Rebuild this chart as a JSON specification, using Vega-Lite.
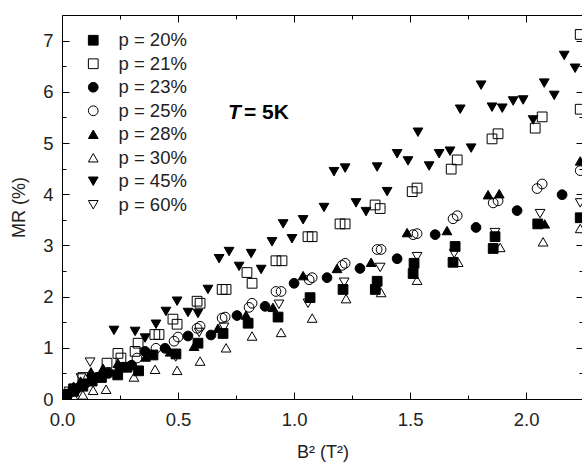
{
  "$schema": "https://vega.github.io/schema/vega-lite/v6.json",
  "autosize": {"type": "none"},
  "padding": {"left": 62, "top": 15, "right": 0, "bottom": 65},
  "width": 521,
  "height": 384,
  "config": {
    "font": "Liberation Sans",
    "view": {"stroke": null},
    "axis": {"domainColor": "black", "tickColor": "black", "labelColor": "#222", "titleColor": "#222", "labelFont": "Liberation Sans", "titleFont": "Liberation Sans", "grid": false},
    "legend": {"orient": "none", "legendX": 22, "legendY": 16, "padding": 0, "labelFontSize": 18.5, "labelFont": "Liberation Sans", "labelColor": "#222", "labelOffset": 16, "rowPadding": 4.5, "symbolSize": 95, "symbolStrokeWidth": 1}
  },
  "data": {
    "values": [
      {"s": "p = 20%", "x": 0.02, "y": 0.08}, {"s": "p = 20%", "x": 0.05, "y": 0.15}, {"s": "p = 20%", "x": 0.09, "y": 0.25}, {"s": "p = 20%", "x": 0.13, "y": 0.35}, {"s": "p = 20%", "x": 0.17, "y": 0.42}, {"s": "p = 20%", "x": 0.24, "y": 0.47}, {"s": "p = 20%", "x": 0.28, "y": 0.62}, {"s": "p = 20%", "x": 0.33, "y": 0.55}, {"s": "p = 20%", "x": 0.392, "y": 0.86}, {"s": "p = 20%", "x": 0.491, "y": 0.88}, {"s": "p = 20%", "x": 0.586, "y": 1.09}, {"s": "p = 20%", "x": 0.694, "y": 1.28}, {"s": "p = 20%", "x": 0.802, "y": 1.48}, {"s": "p = 20%", "x": 0.931, "y": 1.6}, {"s": "p = 20%", "x": 1.069, "y": 1.98}, {"s": "p = 20%", "x": 1.211, "y": 2.14}, {"s": "p = 20%", "x": 1.358, "y": 2.3}, {"s": "p = 20%", "x": 1.35, "y": 2.14}, {"s": "p = 20%", "x": 1.517, "y": 2.65}, {"s": "p = 20%", "x": 1.513, "y": 2.45}, {"s": "p = 20%", "x": 1.694, "y": 2.98}, {"s": "p = 20%", "x": 1.685, "y": 2.67}, {"s": "p = 20%", "x": 1.866, "y": 3.17}, {"s": "p = 20%", "x": 1.858, "y": 2.94}, {"s": "p = 20%", "x": 2.05, "y": 3.42}, {"s": "p = 20%", "x": 2.233, "y": 3.54},
      {"s": "p = 21%", "x": 0.05, "y": 0.2}, {"s": "p = 21%", "x": 0.09, "y": 0.42}, {"s": "p = 21%", "x": 0.194, "y": 0.7}, {"s": "p = 21%", "x": 0.241, "y": 0.89}, {"s": "p = 21%", "x": 0.254, "y": 0.8}, {"s": "p = 21%", "x": 0.315, "y": 0.93}, {"s": "p = 21%", "x": 0.328, "y": 1.09}, {"s": "p = 21%", "x": 0.4, "y": 1.26}, {"s": "p = 21%", "x": 0.418, "y": 1.26}, {"s": "p = 21%", "x": 0.478, "y": 1.56}, {"s": "p = 21%", "x": 0.496, "y": 1.46}, {"s": "p = 21%", "x": 0.582, "y": 1.91}, {"s": "p = 21%", "x": 0.595, "y": 1.87}, {"s": "p = 21%", "x": 0.69, "y": 2.14}, {"s": "p = 21%", "x": 0.707, "y": 2.14}, {"s": "p = 21%", "x": 0.797, "y": 2.47}, {"s": "p = 21%", "x": 0.819, "y": 2.26}, {"s": "p = 21%", "x": 0.922, "y": 2.7}, {"s": "p = 21%", "x": 0.948, "y": 2.7}, {"s": "p = 21%", "x": 1.06, "y": 3.17}, {"s": "p = 21%", "x": 1.078, "y": 3.17}, {"s": "p = 21%", "x": 1.198, "y": 3.42}, {"s": "p = 21%", "x": 1.22, "y": 3.42}, {"s": "p = 21%", "x": 1.349, "y": 3.79}, {"s": "p = 21%", "x": 1.371, "y": 3.72}, {"s": "p = 21%", "x": 1.509, "y": 4.05}, {"s": "p = 21%", "x": 1.53, "y": 4.12}, {"s": "p = 21%", "x": 1.677, "y": 4.49}, {"s": "p = 21%", "x": 1.703, "y": 4.67}, {"s": "p = 21%", "x": 1.853, "y": 5.08}, {"s": "p = 21%", "x": 1.879, "y": 5.18}, {"s": "p = 21%", "x": 2.039, "y": 5.29}, {"s": "p = 21%", "x": 2.069, "y": 5.51}, {"s": "p = 21%", "x": 2.233, "y": 5.66}, {"s": "p = 21%", "x": 2.233, "y": 7.12},
      {"s": "p = 23%", "x": 0.02, "y": 0.05}, {"s": "p = 23%", "x": 0.06, "y": 0.18}, {"s": "p = 23%", "x": 0.1, "y": 0.3}, {"s": "p = 23%", "x": 0.15, "y": 0.42}, {"s": "p = 23%", "x": 0.2, "y": 0.5}, {"s": "p = 23%", "x": 0.25, "y": 0.6}, {"s": "p = 23%", "x": 0.3, "y": 0.66}, {"s": "p = 23%", "x": 0.358, "y": 0.93}, {"s": "p = 23%", "x": 0.444, "y": 0.99}, {"s": "p = 23%", "x": 0.543, "y": 1.23}, {"s": "p = 23%", "x": 0.642, "y": 1.25}, {"s": "p = 23%", "x": 0.754, "y": 1.63}, {"s": "p = 23%", "x": 0.875, "y": 1.81}, {"s": "p = 23%", "x": 1.0, "y": 2.26}, {"s": "p = 23%", "x": 1.142, "y": 2.37}, {"s": "p = 23%", "x": 1.284, "y": 2.55}, {"s": "p = 23%", "x": 1.444, "y": 2.74}, {"s": "p = 23%", "x": 1.608, "y": 3.21}, {"s": "p = 23%", "x": 1.784, "y": 3.35}, {"s": "p = 23%", "x": 1.961, "y": 3.68}, {"s": "p = 23%", "x": 2.155, "y": 3.99},
      {"s": "p = 25%", "x": 0.03, "y": 0.1}, {"s": "p = 25%", "x": 0.08, "y": 0.25}, {"s": "p = 25%", "x": 0.14, "y": 0.4}, {"s": "p = 25%", "x": 0.2, "y": 0.52}, {"s": "p = 25%", "x": 0.26, "y": 0.62}, {"s": "p = 25%", "x": 0.323, "y": 0.8}, {"s": "p = 25%", "x": 0.405, "y": 0.99}, {"s": "p = 25%", "x": 0.483, "y": 1.13}, {"s": "p = 25%", "x": 0.5, "y": 1.21}, {"s": "p = 25%", "x": 0.582, "y": 1.38}, {"s": "p = 25%", "x": 0.595, "y": 1.42}, {"s": "p = 25%", "x": 0.69, "y": 1.58}, {"s": "p = 25%", "x": 0.703, "y": 1.6}, {"s": "p = 25%", "x": 0.806, "y": 1.79}, {"s": "p = 25%", "x": 0.819, "y": 1.87}, {"s": "p = 25%", "x": 0.922, "y": 2.1}, {"s": "p = 25%", "x": 0.944, "y": 2.1}, {"s": "p = 25%", "x": 1.065, "y": 2.33}, {"s": "p = 25%", "x": 1.078, "y": 2.37}, {"s": "p = 25%", "x": 1.207, "y": 2.61}, {"s": "p = 25%", "x": 1.22, "y": 2.65}, {"s": "p = 25%", "x": 1.358, "y": 2.92}, {"s": "p = 25%", "x": 1.375, "y": 2.92}, {"s": "p = 25%", "x": 1.513, "y": 3.21}, {"s": "p = 25%", "x": 1.53, "y": 3.23}, {"s": "p = 25%", "x": 1.685, "y": 3.52}, {"s": "p = 25%", "x": 1.703, "y": 3.58}, {"s": "p = 25%", "x": 1.858, "y": 3.83}, {"s": "p = 25%", "x": 1.879, "y": 3.87}, {"s": "p = 25%", "x": 2.047, "y": 4.11}, {"s": "p = 25%", "x": 2.069, "y": 4.2}, {"s": "p = 25%", "x": 2.233, "y": 4.46},
      {"s": "p = 28%", "x": 0.01, "y": 0.05}, {"s": "p = 28%", "x": 0.03, "y": 0.15}, {"s": "p = 28%", "x": 0.05, "y": 0.25}, {"s": "p = 28%", "x": 0.08, "y": 0.35}, {"s": "p = 28%", "x": 0.125, "y": 0.53}, {"s": "p = 28%", "x": 0.177, "y": 0.6}, {"s": "p = 28%", "x": 0.241, "y": 0.7}, {"s": "p = 28%", "x": 0.3, "y": 0.68}, {"s": "p = 28%", "x": 0.36, "y": 0.82}, {"s": "p = 28%", "x": 0.466, "y": 0.92}, {"s": "p = 28%", "x": 0.569, "y": 1.03}, {"s": "p = 28%", "x": 0.672, "y": 1.38}, {"s": "p = 28%", "x": 0.793, "y": 1.64}, {"s": "p = 28%", "x": 0.909, "y": 1.79}, {"s": "p = 28%", "x": 1.039, "y": 2.41}, {"s": "p = 28%", "x": 1.185, "y": 2.55}, {"s": "p = 28%", "x": 1.332, "y": 2.67}, {"s": "p = 28%", "x": 1.487, "y": 3.25}, {"s": "p = 28%", "x": 1.659, "y": 3.29}, {"s": "p = 28%", "x": 1.836, "y": 3.99}, {"s": "p = 28%", "x": 1.884, "y": 4.01}, {"s": "p = 28%", "x": 2.08, "y": 3.42}, {"s": "p = 28%", "x": 2.233, "y": 4.65},
      {"s": "p = 30%", "x": 0.02, "y": 0.02}, {"s": "p = 30%", "x": 0.05, "y": 0.05}, {"s": "p = 30%", "x": 0.09, "y": 0.08}, {"s": "p = 30%", "x": 0.134, "y": 0.17}, {"s": "p = 30%", "x": 0.19, "y": 0.19}, {"s": "p = 30%", "x": 0.31, "y": 0.43}, {"s": "p = 30%", "x": 0.401, "y": 0.58}, {"s": "p = 30%", "x": 0.496, "y": 0.56}, {"s": "p = 30%", "x": 0.595, "y": 0.74}, {"s": "p = 30%", "x": 0.707, "y": 1.0}, {"s": "p = 30%", "x": 0.819, "y": 1.23}, {"s": "p = 30%", "x": 0.944, "y": 1.3}, {"s": "p = 30%", "x": 1.078, "y": 1.58}, {"s": "p = 30%", "x": 1.224, "y": 1.96}, {"s": "p = 30%", "x": 1.375, "y": 2.08}, {"s": "p = 30%", "x": 1.53, "y": 2.32}, {"s": "p = 30%", "x": 1.707, "y": 2.67}, {"s": "p = 30%", "x": 1.888, "y": 2.96}, {"s": "p = 30%", "x": 2.073, "y": 3.07}, {"s": "p = 30%", "x": 2.233, "y": 3.33},
      {"s": "p = 45%", "x": 0.02, "y": 0.1}, {"s": "p = 45%", "x": 0.05, "y": 0.2}, {"s": "p = 45%", "x": 0.224, "y": 1.34}, {"s": "p = 45%", "x": 0.315, "y": 1.32}, {"s": "p = 45%", "x": 0.358, "y": 1.19}, {"s": "p = 45%", "x": 0.405, "y": 1.46}, {"s": "p = 45%", "x": 0.448, "y": 1.71}, {"s": "p = 45%", "x": 0.496, "y": 1.91}, {"s": "p = 45%", "x": 0.543, "y": 1.69}, {"s": "p = 45%", "x": 0.586, "y": 1.67}, {"s": "p = 45%", "x": 0.629, "y": 2.14}, {"s": "p = 45%", "x": 0.677, "y": 2.74}, {"s": "p = 45%", "x": 0.72, "y": 2.88}, {"s": "p = 45%", "x": 0.763, "y": 2.59}, {"s": "p = 45%", "x": 0.815, "y": 2.84}, {"s": "p = 45%", "x": 0.858, "y": 2.53}, {"s": "p = 45%", "x": 0.905, "y": 3.07}, {"s": "p = 45%", "x": 0.953, "y": 3.42}, {"s": "p = 45%", "x": 0.991, "y": 3.13}, {"s": "p = 45%", "x": 1.039, "y": 3.5}, {"s": "p = 45%", "x": 1.129, "y": 3.74}, {"s": "p = 45%", "x": 1.172, "y": 4.44}, {"s": "p = 45%", "x": 1.22, "y": 4.51}, {"s": "p = 45%", "x": 1.267, "y": 3.83}, {"s": "p = 45%", "x": 1.31, "y": 3.66}, {"s": "p = 45%", "x": 1.358, "y": 4.53}, {"s": "p = 45%", "x": 1.401, "y": 4.05}, {"s": "p = 45%", "x": 1.444, "y": 4.79}, {"s": "p = 45%", "x": 1.491, "y": 4.65}, {"s": "p = 45%", "x": 1.534, "y": 5.21}, {"s": "p = 45%", "x": 1.582, "y": 4.55}, {"s": "p = 45%", "x": 1.625, "y": 4.79}, {"s": "p = 45%", "x": 1.672, "y": 4.84}, {"s": "p = 45%", "x": 1.716, "y": 5.66}, {"s": "p = 45%", "x": 1.763, "y": 4.9}, {"s": "p = 45%", "x": 1.806, "y": 6.13}, {"s": "p = 45%", "x": 1.853, "y": 5.7}, {"s": "p = 45%", "x": 1.897, "y": 5.68}, {"s": "p = 45%", "x": 1.944, "y": 5.82}, {"s": "p = 45%", "x": 1.987, "y": 5.84}, {"s": "p = 45%", "x": 2.03, "y": 5.45}, {"s": "p = 45%", "x": 2.078, "y": 6.17}, {"s": "p = 45%", "x": 2.121, "y": 5.93}, {"s": "p = 45%", "x": 2.164, "y": 6.71}, {"s": "p = 45%", "x": 2.211, "y": 6.46},
      {"s": "p = 60%", "x": 0.03, "y": 0.15}, {"s": "p = 60%", "x": 0.082, "y": 0.41}, {"s": "p = 60%", "x": 0.121, "y": 0.72}, {"s": "p = 60%", "x": 0.49, "y": 0.82}, {"s": "p = 60%", "x": 0.591, "y": 1.3}, {"s": "p = 60%", "x": 0.698, "y": 1.4}, {"s": "p = 60%", "x": 0.935, "y": 1.85}, {"s": "p = 60%", "x": 1.06, "y": 1.87}, {"s": "p = 60%", "x": 1.216, "y": 2.28}, {"s": "p = 60%", "x": 1.371, "y": 2.57}, {"s": "p = 60%", "x": 1.53, "y": 2.78}, {"s": "p = 60%", "x": 1.69, "y": 2.84}, {"s": "p = 60%", "x": 1.866, "y": 3.25}, {"s": "p = 60%", "x": 2.06, "y": 3.62}, {"s": "p = 60%", "x": 2.233, "y": 3.83}
    ]
  },
  "layer": [
    {
      "mark": {"type": "point", "filled": true, "strokeWidth": 1, "size": 95, "opacity": 1, "clip": true},
      "encoding": {
        "x": {"field": "x", "type": "quantitative", "scale": {"domain": [0, 2.245], "nice": false, "zero": false},
          "axis": {"orient": "bottom", "title": "B² (T²)", "titleFontSize": 18, "titleFontWeight": "normal", "titlePadding": 15,
            "values": [0, 0.25, 0.5, 0.75, 1, 1.25, 1.5, 1.75, 2],
            "labelExpr": "datum.value % 0.5 === 0 ? format(datum.value, '.1f') : ''",
            "labelFontSize": 18.5, "labelPadding": 18, "labelFlush": false,
            "tickSize": {"condition": {"test": "datum.value % 0.5 === 0", "value": -7}, "value": -4}}},
        "y": {"field": "y", "type": "quantitative", "scale": {"domain": [0, 7.5], "nice": false, "zero": false},
          "axis": {"orient": "left", "title": "MR (%)", "titleFontSize": 18, "titleFontWeight": "normal", "titlePadding": 14,
            "values": [0, 0.5, 1, 1.5, 2, 2.5, 3, 3.5, 4, 4.5, 5, 5.5, 6, 6.5, 7],
            "labelExpr": "datum.value % 1 === 0 ? format(datum.value, 'd') : ''",
            "labelFontSize": 18.5, "labelPadding": 16, "labelFlush": false,
            "tickSize": {"condition": {"test": "datum.value % 1 === 0", "value": -7}, "value": -4}}},
        "shape": {"field": "s", "type": "nominal",
          "scale": {"domain": ["p = 20%", "p = 21%", "p = 23%", "p = 25%", "p = 28%", "p = 30%", "p = 45%", "p = 60%"],
            "range": ["square", "square", "circle", "circle", "triangle-up", "triangle-up", "triangle-down", "triangle-down"]},
          "legend": {"title": null}},
        "fill": {"field": "s", "type": "nominal",
          "scale": {"domain": ["p = 20%", "p = 21%", "p = 23%", "p = 25%", "p = 28%", "p = 30%", "p = 45%", "p = 60%"],
            "range": ["black", "transparent", "black", "transparent", "black", "transparent", "black", "transparent"]},
          "legend": {"title": null}},
        "stroke": {"field": "s", "type": "nominal",
          "scale": {"domain": ["p = 20%", "p = 21%", "p = 23%", "p = 25%", "p = 28%", "p = 30%", "p = 45%", "p = 60%"],
            "range": ["black", "black", "black", "black", "black", "black", "black", "black"]},
          "legend": {"title": null}}
      }
    },
    {
      "mark": {"type": "point", "opacity": 0},
      "encoding": {
        "x": {"field": "x", "type": "quantitative",
          "axis": {"orient": "top", "title": null, "labels": false, "values": [0, 0.25, 0.5, 0.75, 1, 1.25, 1.5, 1.75, 2],
            "tickSize": {"condition": {"test": "datum.value % 0.5 === 0", "value": -7}, "value": -4}}},
        "y": {"field": "y", "type": "quantitative",
          "axis": {"orient": "right", "title": null, "labels": false, "values": [0, 0.5, 1, 1.5, 2, 2.5, 3, 3.5, 4, 4.5, 5, 5.5, 6, 6.5, 7],
            "tickSize": {"condition": {"test": "datum.value % 1 === 0", "value": -7}, "value": -4}}}
      }
    },
    {
      "data": {"values": [{}]},
      "mark": {"type": "text", "text": "T", "font": "Liberation Sans", "fontSize": 21, "fontWeight": "bold", "fontStyle": "italic", "align": "left", "baseline": "middle", "color": "black"},
      "encoding": {
        "x": {"datum": 0.7155, "type": "quantitative", "axis": null},
        "y": {"datum": 5.59, "type": "quantitative", "axis": null}
      }
    },
    {
      "data": {"values": [{}]},
      "mark": {"type": "text", "text": "= 5K", "font": "Liberation Sans", "fontSize": 21, "fontWeight": "bold", "align": "left", "baseline": "middle", "color": "black"},
      "encoding": {
        "x": {"datum": 0.784, "type": "quantitative", "axis": null},
        "y": {"datum": 5.59, "type": "quantitative", "axis": null}
      }
    }
  ],
  "resolve": {"axis": {"x": "independent", "y": "independent"}}
}
